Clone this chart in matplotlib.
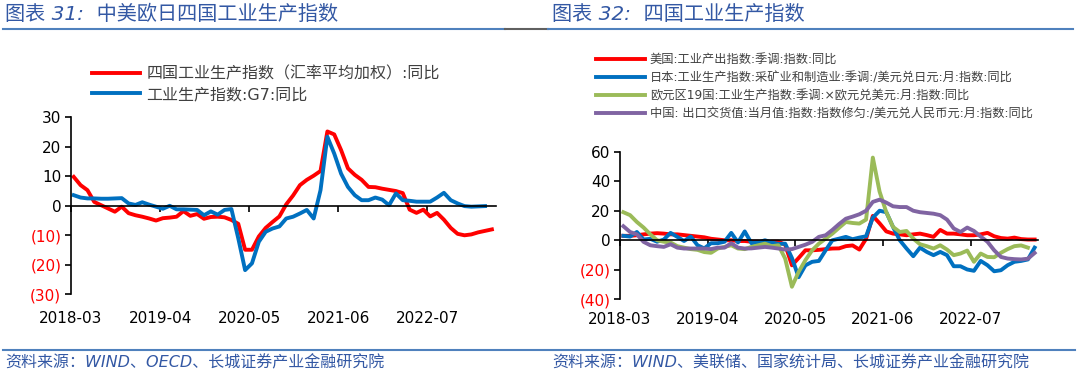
import numpy as np
import matplotlib.pyplot as plt
from matplotlib.lines import Line2D

plt.rcParams['font.family'] = ['DejaVu Sans', 'Noto Sans CJK SC']
plt.rcParams['axes.unicode_minus'] = False

# ---- data (monthly, starting 2018-03) ----
tick_labels = ['2018-03', '2019-04', '2020-05', '2021-06', '2022-07']
tick_idx = [0, 13, 26, 39, 52]

# chart 31
four_ip = [9.8, 7, 5.3, 1.3, 0.2, -0.9, -2.0, -0.3, -2.5, -3.2,
           -3.7, -4.3, -5.0, -4.2, -4.0, -3.7, -1.8, -3.4, -2.8, -4.4,
           -3.8, -3.7, -3.9, -4.8, -6.1, -14.9, -14.9, -10.4, -7.5, -5.5,
           -3.6, 0.5, 3.5, 7.0, 8.8, 10.2, 11.8, 25.2, 24.2, 18.9,
           12.7, 10.5, 8.8, 6.4, 6.3, 5.8, 5.4, 5.0, 4.3, -1.3,
           -2.4, -1.3, -3.6, -2.4, -4.7, -7.5, -9.5, -10.0, -9.7, -9.0,
           -8.5, -8.0]
g7_ip = [3.6, 2.8, 2.5, 2.5, 2.4, 2.4, 2.5, 2.6, 0.8, 0.3,
         1.2, 0.4, -0.3, -1.0, 0.0, -1.2, -1.2, -1.3, -1.4, -3.2,
         -1.9, -3.0, -1.4, -1.1, -11.0, -21.8, -19.5, -12.2, -8.8, -7.7,
         -7.0, -4.3, -3.7, -2.6, -1.4, -4.3, 5.3, 23.4, 17.7, 10.9,
         6.4, 3.6, 1.9, 1.9, 2.8, 2.1, 0.2, 4.2, 1.9, 1.7,
         1.4, 1.4, 1.4, 2.8, 4.4, 1.9, 0.8, -0.1, -0.3, -0.2,
         -0.1]

# chart 32
us_ip = [3, 3, 3.4, 4, 4.5, 4.8, 4.5, 4, 4, 3.5,
         3, 2.5, 2, 1, 0.5, 0, 0, -0.5, -0.5, -1,
         -1, -1.5, -1, -1, -3, -17, -12, -6.8, -6.8, -6.5,
         -6, -5.6, -5.5, -4, -3.5, -6.3, 1, 16.5, 11.5, 6,
         4.5, 4, 3.4, 4, 4.5, 3.5, 2.3, 7, 4.5, 4.5,
         4, 3.4, 3.4, 4, 5, 2.7, 1.5, 1.1, 1.8, 0.8,
         0.5, 0.5]
jp_ip = [3, 2.5, 5.6, 0.5, 1, -1, 0.5, 5, 2.3, -0.5,
         2.5, -3.4, -5.5, -2, -2, -1, 5, -1.5, 6, -2,
         -1.5, 0, -1.5, -2.5, -2.3, -12, -25, -17, -14.6, -14,
         -6.8, 0, 1.1, 2.3, 0.7, 1.8, 2.7, 15.3, 20, 19,
         9, 0, -5.6, -10.8, -5, -7.9, -10.1, -7.9, -10.1, -17.6,
         -17.6, -19.8, -20.7, -14, -16.9, -21, -20.3, -16.9, -14.6, -14,
         -13, -5]
ez_ip = [19, 17, 12.4, 8.6, 4, 0, -1, -1.5, -4, -5,
         -6, -6.5, -8, -8.5, -5.6, -4.5, -3.4, -5.6, -6, -4.5,
         -3.4, -2.3, -4, -3.4, -12.4, -31.5, -21.4, -13.5, -6.8, -2.3,
         1.1, 4.5, 8.5, 12.4, 11.7, 11.3, 14, 56, 33, 19,
         9, 5.6, 6.3, 1.1, -2.7, -4, -5.6, -3.4, -6.3, -10.1,
         -9, -7, -14.6, -9, -11.3, -11.5, -8.5, -6, -4, -3.5,
         -5]
cn_exp = [9.5, 5.6, 4, -1.1, -3.4, -4, -4.5, -2.7, -5, -5.6,
          -5.6, -5.6, -5.6, -6, -5, -5, -2, -5, -5.6, -5.5,
          -5, -4.5, -5, -5.6, -6.3, -6, -4.5, -3, -1.1, 2.3,
          3.4, 7, 11, 14.6, 16, 17.6, 20, 26, 27.5, 25.5,
          23, 22.5, 22.5, 20, 19, 18.5, 18, 17, 14, 8,
          5.6, 8.6, 6.3, 2.5, -1, -6.8, -11.3, -12.4, -12.8, -13,
          -12.5, -8.6]

RED = '#FF0000'
BLUE = '#0070C0'
GREEN = '#9BBB59'
PURPLE = '#8064A2'
TITLE_C = '#3358A4'
LINE_C = '#4F81BD'

fig = plt.figure(figsize=(10.8, 3.79), dpi=100)
W, H = 1080, 379


def px_axes(x0, y_top, x1, y_bot):
    return fig.add_axes([x0 / W, 1 - y_bot / H, (x1 - x0) / W, (y_bot - y_top) / H])


def style_axes(ax, yticks, xmax, label_pad):
    ax.set_xlim(0, xmax)
    ax.set_ylim(yticks[0], yticks[-1])
    for s in ['top', 'right']:
        ax.spines[s].set_visible(False)
    ax.spines['bottom'].set_position(('data', 0))
    ax.spines['bottom'].set_linewidth(1.2)
    ax.spines['left'].set_linewidth(1.2)
    ax.set_xticks(tick_idx)
    ax.tick_params(axis='x', direction='out', length=4, width=1.2, labelbottom=False)
    ax.set_yticks(yticks)
    ax.set_yticklabels([f'({-v})' if v < 0 else str(v) for v in yticks])
    ax.tick_params(axis='y', direction='out', length=4, width=1.2, labelsize=11, pad=3)
    for lbl, v in zip(ax.get_yticklabels(), yticks):
        lbl.set_color(RED if v < 0 else 'black')
    sec = ax.secondary_xaxis('bottom')
    sec.set_xticks(tick_idx, labels=tick_labels)
    sec.tick_params(length=0, labelsize=11, pad=label_pad)
    sec.spines['bottom'].set_visible(False)
    ax.set_facecolor('none')


# ---- left chart ----
ax1 = px_axes(71, 117.3, 496, 294.3)
x_four = np.arange(len(four_ip)) + 0.4
x_g7 = np.arange(len(g7_ip)) + 0.4
ax1.plot(x_four, four_ip, color=RED, lw=2.8, label='四国工业生产指数（汇率平均加权）:同比')
ax1.plot(x_g7, g7_ip, color=BLUE, lw=2.8, label='工业生产指数:G7:同比')
style_axes(ax1, [-30, -20, -10, 0, 10, 20, 30], 62, 12)
ax1.legend(loc='upper left', bbox_to_anchor=(92 / W, 1 - 66 / H), bbox_transform=fig.transFigure,
           frameon=False, fontsize=11.5, handlelength=3.0, handletextpad=0.4, labelspacing=0.35,
           borderpad=0, borderaxespad=0, labelcolor='#404040')

# ---- right chart ----
ax2 = px_axes(620, 151.7, 1038, 299.3)
for vals, c, lab in [(us_ip, RED, '美国:工业产出指数:季调:指数:同比'),
                     (jp_ip, BLUE, '日本:工业生产指数:采矿业和制造业:季调:/美元兑日元:月:指数:同比'),
                     (ez_ip, GREEN, '欧元区19国:工业生产指数:季调:×欧元兑美元:月:指数:同比'),
                     (cn_exp, PURPLE, '中国: 出口交货值:当月值:指数:指数修匀:/美元兑人民币元:月:指数:同比')]:
    ax2.plot(np.arange(len(vals)) + 0.5, vals, color=c, lw=2.8, label=lab)
style_axes(ax2, [-40, -20, 0, 20, 40, 60], 62, 9)
ax2.legend(loc='upper left', bbox_to_anchor=(596 / W, 1 - 53 / H), bbox_transform=fig.transFigure,
           frameon=False, fontsize=8.8, handlelength=4.0, handletextpad=0.4, labelspacing=0.42,
           borderpad=0, borderaxespad=0, labelcolor='#404040')

# ---- titles, rules, sources ----
fig.text(5 / W, 1 - 14 / H, '图表 31:  中美欧日四国工业生产指数', color=TITLE_C, fontsize=14.5,
         style='italic', va='center', ha='left')
fig.text(552 / W, 1 - 14 / H, '图表 32:  四国工业生产指数', color=TITLE_C, fontsize=14.5,
         style='italic', va='center', ha='left')
fig.add_artist(Line2D([3 / W, 505 / W], [1 - 29 / H] * 2, color=LINE_C, lw=1.5))
fig.add_artist(Line2D([505 / W, 548 / W], [1 - 29 / H] * 2, color='#606060', lw=1.5))
fig.add_artist(Line2D([548 / W, 1073 / W], [1 - 29 / H] * 2, color=LINE_C, lw=1.5))
fig.add_artist(Line2D([3 / W, 1075 / W], [1 - 350 / H] * 2, color=LINE_C, lw=1.5))
fig.text(5 / W, 1 - 363 / H, '资料来源：WIND、OECD、长城证券产业金融研究院', color=TITLE_C, fontsize=11.5,
         style='italic', va='center', ha='left')
fig.text(552 / W, 1 - 363 / H, '资料来源：WIND、美联储、国家统计局、长城证券产业金融研究院', color=TITLE_C,
         fontsize=11.5, style='italic', va='center', ha='left')

fig.savefig('out.png', dpi=100, facecolor='white')
